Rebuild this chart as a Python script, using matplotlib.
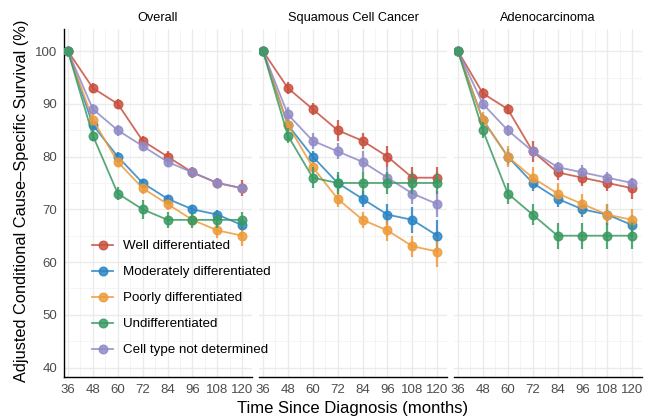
from matplotlib import pyplot as plt
from matplotlib.lines import Line2D
import numpy as np

plt.rcParams['font.family'] = ['Liberation Sans', 'DejaVu Sans']

months = [36, 48, 60, 72, 84, 96, 108, 120]
panels = ['Overall', 'Squamous Cell Cancer', 'Adenocarcinoma']
groups = ['Well differentiated', 'Moderately differentiated', 'Poorly differentiated',
          'Undifferentiated', 'Cell type not determined']
colors = ['#C9503F', '#2A85C4', '#EE9B3B', '#3A9A62', '#908BC7']

# survival (%) per panel, per group
overall = [
    [100, 93, 90, 83, 80, 77, 75, 74],
    [100, 86, 80, 75, 72, 70, 69, 67],
    [100, 87, 79, 74, 71, 68, 66, 65],
    [100, 84, 73, 70, 68, 68, 68, 68],
    [100, 89, 85, 82, 79, 77, 75, 74],
]
squamous = [
    [100, 93, 89, 85, 83, 80, 76, 76],
    [100, 86, 80, 75, 72, 69, 68, 65],
    [100, 86, 78, 72, 68, 66, 63, 62],
    [100, 84, 76, 75, 75, 75, 75, 75],
    [100, 88, 83, 81, 79, 76, 73, 71],
]
adeno = [
    [100, 92, 89, 81, 77, 76, 75, 74],
    [100, 87, 80, 75, 72, 70, 69, 67],
    [100, 87, 80, 76, 73, 71, 69, 68],
    [100, 85, 73, 69, 65, 65, 65, 65],
    [100, 90, 85, 81, 78, 77, 76, 75],
]

# half-width of the error bars
overall_err = [
    [0, 1, 1, 1, 1, 1, 1, 1.5],
    [0, 0.7, 0.8, 0.8, 0.8, 0.8, 0.9, 1],
    [0, 1, 1, 1, 1.2, 1.2, 1.5, 2],
    [0, 1, 1.2, 1.8, 1.5, 1.5, 1.5, 1.5],
    [0, 1, 1, 1, 1, 1, 1, 1],
]
squamous_err = [
    [0, 1.2, 1.2, 2, 1.5, 2, 2, 2],
    [0, 1, 1, 1.5, 1.5, 2, 2.5, 3],
    [0, 1, 1.5, 1.5, 1.5, 2, 2, 3],
    [0, 1.5, 2, 2, 2, 2, 2, 2],
    [0, 1.5, 1.5, 1.5, 2, 2, 2, 2.5],
]
adeno_err = [
    [0, 1, 1, 2, 1.5, 1.5, 1.5, 2],
    [0, 1, 1.5, 1.5, 1.5, 1.5, 2, 2],
    [0, 1.5, 2, 2, 2, 2, 2, 2],
    [0, 1.5, 2, 2, 2.5, 2.5, 2.5, 2.5],
    [0, 1, 1, 1, 1, 1.5, 1, 1],
]

data = [overall, squamous, adeno]
errs = [overall_err, squamous_err, adeno_err]

fig = plt.figure(figsize=(6.59, 4.19), dpi=100)
W, H = 659, 419
lefts = [64, 259, 454]
pw = 188
bottom, top = 377, 29

axes = []
for p in range(3):
    ax = fig.add_axes([lefts[p] / W, (H - bottom) / H, pw / W, (bottom - top) / H])
    axes.append(ax)
    for g in range(5):
        z = 4 if g == 3 else 3
        ax.errorbar(months, data[p][g], yerr=errs[p][g], color=colors[g],
                    ecolor=colors[g], elinewidth=1.6, capsize=0, lw=1.3,
                    marker='o', ms=6.2, alpha=0.85, zorder=z)
    ax.set_xlim(34.1, 124.7)
    ax.set_ylim(38.2, 104.2)
    ax.set_xticks(months)
    ax.set_xticks(np.arange(42, 126, 12), minor=True)
    ax.set_yticks([40, 50, 60, 70, 80, 90, 100])
    ax.set_yticks([45, 55, 65, 75, 85, 95], minor=True)
    ax.grid(True, which='major', color='#EBEBEB', lw=1.0, zorder=0)
    ax.grid(True, which='minor', color='#F3F3F3', lw=0.6, zorder=0)
    ax.set_axisbelow(True)
    ax.set_facecolor('none')
    for s in ['top', 'right', 'left']:
        ax.spines[s].set_visible(False)
    ax.spines['bottom'].set_color('black')
    ax.spines['bottom'].set_linewidth(1.0)
    ax.tick_params(which='both', length=0, labelsize=9.5, labelcolor='#4D4D4D', pad=5)
    ax.set_title(panels[p], fontsize=9.2, pad=6)
    if p == 0:
        ax.spines['left'].set_visible(True)
        ax.spines['left'].set_color('black')
        ax.spines['left'].set_linewidth(1.0)
    else:
        ax.set_yticklabels([])

# legend sits inside the first panel but spills over the second, so put it on the figure
handles = [Line2D([], [], color=c, lw=1.3, marker='o', ms=6.2, alpha=0.85) for c in colors]
fig.legend(handles, groups, loc='upper left', bbox_to_anchor=(0.1316, 0.4401), frameon=False,
           fontsize=9.6, handlelength=1.58, labelspacing=1.025, handletextpad=0.75,
           borderaxespad=0)

fig.text(0.535, 0.026, 'Time Since Diagnosis (months)', ha='center', va='center', fontsize=12)
fig.text(22 / W, 0.52, 'Adjusted Conditional Cause\u2013Specific Survival (%)', ha='center',
         va='center', rotation=90, fontsize=11.8)

plt.savefig('out.png', dpi=100)
